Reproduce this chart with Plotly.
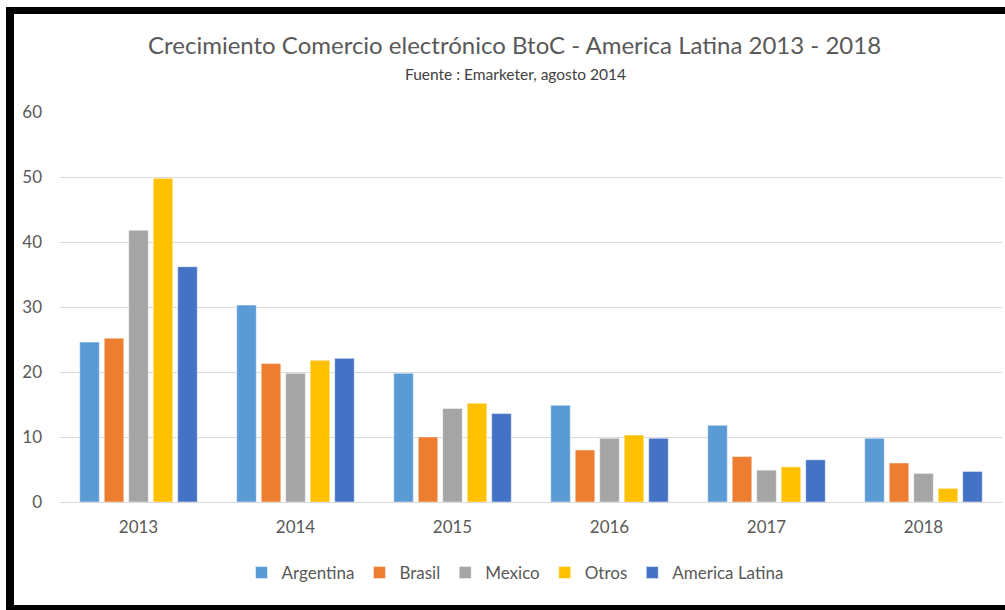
import plotly.graph_objects as go

# Años y tasas de crecimiento (%) del comercio electrónico BtoC
years = ["2013", "2014", "2015", "2016", "2017", "2018"]
argentina = [24.6, 30.3, 19.8, 14.9, 11.8, 9.8]
brasil = [25.2, 21.3, 10.0, 8.0, 7.0, 6.0]
mexico = [41.8, 19.8, 14.4, 9.8, 4.9, 4.4]
otros = [49.8, 21.8, 15.2, 10.3, 5.4, 2.1]
america_latina = [36.2, 22.1, 13.6, 9.8, 6.5, 4.7]

series = [
    ("Argentina", argentina, "#5B9BD5"),
    ("Brasil", brasil, "#ED7D31"),
    ("Mexico", mexico, "#A5A5A5"),
    ("Otros", otros, "#FFC000"),
    ("America Latina", america_latina, "#4472C4"),
]

W, H = 1005, 610
ML, MR, MT, MB = 60, 3, 112, 108
FONT = "Lato, 'Open Sans', sans-serif"
GREY = "#595959"

fig = go.Figure()
for name, vals, color in series:
    fig.add_trace(go.Bar(
        x=years, y=vals, name=name,
        marker=dict(color=color, line=dict(color="rgba(255,255,255,0.6)", width=0.8)),
    ))

plot_w = W - ML - MR
plot_h = H - MT - MB


def px_x(px):
    return (px - ML) / plot_w


def px_y(py):
    return (H - MB - py) / plot_h


# black frame around the chart (left, top and bottom edges)
frame = [
    (6, 7, 14, 615),
    (6, 7, 1010, 14),
    (6, 605, 1010, 615),
]
shapes = [
    dict(type="rect", xref="paper", yref="paper",
         x0=px_x(x0), x1=px_x(x1), y0=px_y(y1), y1=px_y(y0),
         fillcolor="black", line=dict(width=0), layer="above")
    for x0, y0, x1, y1 in frame
]

fig.update_layout(
    width=W, height=H,
    margin=dict(l=ML, r=MR, t=MT, b=MB),
    paper_bgcolor="white", plot_bgcolor="white",
    font=dict(family=FONT, color=GREY),
    title=dict(
        text="Crecimiento Comercio electrónico BtoC - America Latina 2013 - 2018",
        x=0.512, xanchor="center", y=1 - 46 / H, yanchor="middle",
        font=dict(size=24, color=GREY, family=FONT),
    ),
    annotations=[dict(
        text="Fuente : Emarketer, agosto 2014",
        xref="paper", yref="paper", x=px_x(515), y=px_y(74),
        xanchor="center", yanchor="middle", showarrow=False,
        font=dict(size=15.5, color="#404040", family=FONT),
    )],
    barmode="group", bargap=0.22, bargroupgap=0.2,
    xaxis=dict(
        showgrid=False, showline=True, linecolor="#D9D9D9", linewidth=1,
        ticks="", tickfont=dict(size=17, color=GREY), ticklabelstandoff=10,
    ),
    yaxis=dict(
        range=[0, 60], dtick=10, showgrid=True, gridcolor="#D9D9D9", gridwidth=1,
        zeroline=True, zerolinecolor="#D9D9D9", zerolinewidth=1,
        ticks="", tickfont=dict(size=17, color=GREY), ticklabelstandoff=17,
    ),
    legend=dict(
        orientation="h", x=px_x(515), xanchor="center", y=px_y(573), yanchor="middle",
        font=dict(size=17, color=GREY, family=FONT), itemwidth=30,
        traceorder="normal",
    ),
    shapes=shapes,
)

fig.write_html("out.html")
